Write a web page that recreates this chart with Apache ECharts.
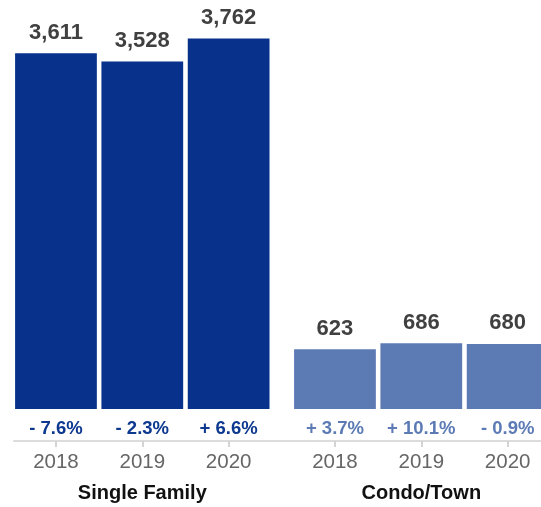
<!DOCTYPE html>
<html>
<head>
<meta charset="utf-8">
<script src="https://cdn.jsdelivr.net/npm/echarts@6/dist/echarts.min.js"></script>
<style>
  html, body { margin: 0; padding: 0; background: #fff; }
  #chart { width: 541px; height: 507px; }
</style>
</head>
<body>
<div id="chart"></div>
<script>
// Closed sales by year, with year-over-year change
const years = ['2018', '2019', '2020'];
const groupNames = ['Single Family', 'Condo/Town'];
const singleFamily = [3611, 3528, 3762];
const condoTown = [623, 686, 680];
const singleFamilyChange = ['- 7.6%', '- 2.3%', '+ 6.6%'];
const condoTownChange = ['+ 3.7%', '+ 10.1%', '- 0.9%'];

const FONT = '"Liberation Sans", Arial, Helvetica, sans-serif';
const DARK = '#07318a';
const LIGHT = '#5c7bb5';

function yearAxis(gridIndex, name) {
  return {
    type: 'category', gridIndex, data: years, position: 'bottom', offset: 32,
    axisLine: { show: false, onZero: false },
    axisTick: { show: true, alignWithLabel: true, length: 6, lineStyle: { color: '#d4d4d4', width: 2 } },
    axisLabel: { interval: 0, hideOverlap: false, margin: 10.5, fontSize: 20.5, color: '#666', fontFamily: FONT },
    name, nameLocation: 'middle', nameGap: 42.5,
    nameTextStyle: { fontSize: 20, fontWeight: 'bold', color: '#111', fontFamily: FONT }
  };
}
function changeAxis(gridIndex, labels, color) {
  return {
    type: 'category', gridIndex, data: labels, position: 'bottom', offset: 0,
    axisLine: { show: false, onZero: false }, axisTick: { show: false },
    axisLabel: { interval: 0, hideOverlap: false, margin: 10, fontSize: 18.5, fontWeight: 'bold', color, fontFamily: FONT }
  };
}
function valueAxis(gridIndex) {
  return { type: 'value', gridIndex, min: 0, max: 4000, show: false };
}
function barSeries(idx, data, color) {
  return {
    type: 'bar', xAxisIndex: idx * 2, yAxisIndex: idx, data,
    barCategoryGap: '5.3%',
    itemStyle: { color },
    label: {
      show: true, position: 'top', distance: 9.5,
      fontSize: 22, fontWeight: 'bold', color: '#404040', fontFamily: FONT,
      formatter: p => p.value.toLocaleString('en-US')
    },
    silent: true, animation: false
  };
}

const chart = echarts.init(document.getElementById('chart'), null, { renderer: 'canvas' });
chart.setOption({
  backgroundColor: '#fff',
  animation: false,
  grid: [
    { left: 12.8, width: 259, top: 15, bottom: 98, outerBoundsMode: 'none', containLabel: false },
    { left: 291.8, width: 259, top: 26, bottom: 98, outerBoundsMode: 'none', containLabel: false },
    { left: 14, right: 0, top: 15, bottom: 98, outerBoundsMode: 'none', containLabel: false }
  ],
  xAxis: [
    yearAxis(0, groupNames[0]),
    changeAxis(0, singleFamilyChange, '#0c3890'),
    yearAxis(1, groupNames[1]),
    changeAxis(1, condoTownChange, LIGHT),
    {
      // shared baseline running under both groups
      type: 'value', gridIndex: 2, min: 0, max: 1, offset: 32,
      axisLine: { show: true, onZero: false, lineStyle: { color: '#dcdcdc', width: 2 } },
      axisTick: { show: false }, axisLabel: { show: false }, splitLine: { show: false }
    }
  ],
  yAxis: [valueAxis(0), valueAxis(1), valueAxis(2)],
  series: [
    barSeries(0, singleFamily, DARK),
    barSeries(1, condoTown, LIGHT)
  ]
});
</script>
</body>
</html>
